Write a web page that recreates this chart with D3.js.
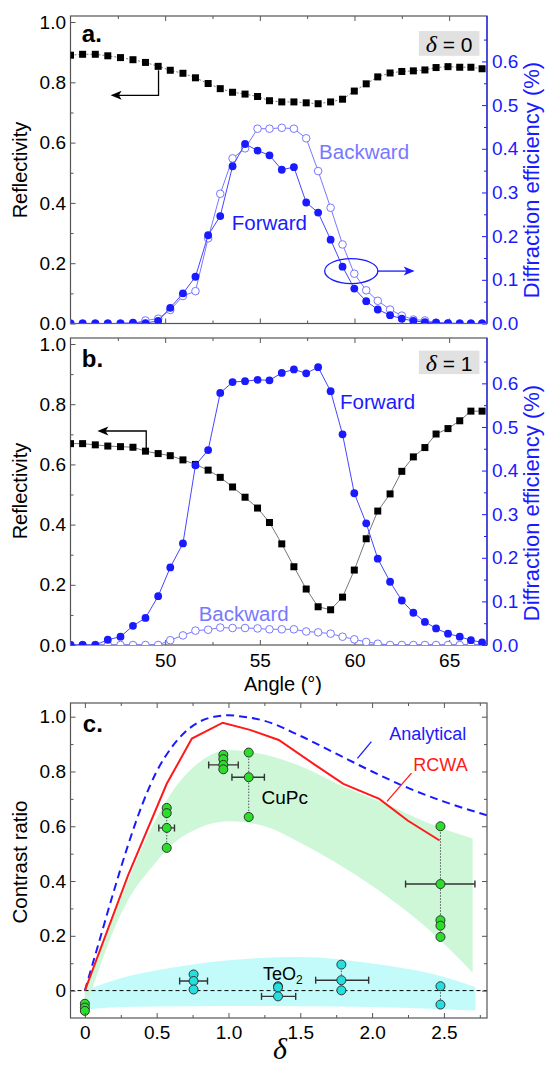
<!DOCTYPE html>
<html>
<head>
<meta charset="utf-8">
<script src="https://cdn.jsdelivr.net/npm/d3@7"></script>
<style>
  body { margin: 0; background: #fff; }
</style>
</head>
<body>
<script>
// ---- data: panels a and b (angle scans) ----
var angles = [45.00,45.64,46.31,46.97,47.64,48.30,48.96,49.63,50.27,50.94,51.60,52.27,52.91,53.56,54.22,54.88,55.51,56.16,56.80,57.45,58.08,58.74,59.37,59.99,60.62,61.23,61.88,62.50,63.11,63.72,64.31,64.94,65.56,66.15,66.74];

var reflA = [0.89,0.893,0.893,0.888,0.882,0.875,0.866,0.853,0.84,0.83,0.815,0.796,0.779,0.767,0.761,0.753,0.739,0.735,0.735,0.732,0.729,0.735,0.744,0.771,0.795,0.818,0.831,0.836,0.838,0.841,0.849,0.852,0.85,0.85,0.845];
var fwdA = [0,0,0,0,0,0.002,0.001,0.006,0.036,0.069,0.107,0.202,0.246,0.36,0.411,0.396,0.385,0.352,0.358,0.277,0.254,0.192,0.13,0.08,0.051,0.032,0.019,0.011,0.006,0.003,0.002,0.001,0,0,0];
var bwdA = [0,0,0,0,0,0,0.007,0.011,0.031,0.063,0.074,0.195,0.297,0.378,0.401,0.446,0.446,0.448,0.446,0.424,0.349,0.265,0.181,0.114,0.076,0.052,0.032,0.018,0.009,0.007,0.002,0,0,0,0];

var reflB = [0.669,0.669,0.665,0.661,0.659,0.657,0.644,0.636,0.629,0.615,0.6,0.581,0.557,0.525,0.491,0.455,0.407,0.336,0.26,0.186,0.127,0.117,0.159,0.249,0.353,0.445,0.502,0.577,0.625,0.656,0.701,0.719,0.745,0.777,0.777];
var fwdB = [0,0,0,0.012,0.019,0.044,0.062,0.112,0.178,0.233,0.412,0.447,0.578,0.603,0.605,0.608,0.607,0.624,0.632,0.623,0.637,0.582,0.483,0.348,0.279,0.198,0.145,0.102,0.074,0.053,0.038,0.026,0.019,0.011,0.006];
var bwdB = [0,0,0,0,0,0,0,0,0.011,0.022,0.033,0.035,0.04,0.039,0.039,0.038,0.036,0.036,0.036,0.031,0.029,0.026,0.019,0.013,0.007,0.003,0,0,0,0,0,0,0,0,0];

var angleTicks = [50, 55, 60, 65];
var angleMinor = [47.5, 52.5, 57.5, 62.5];
var reflTicks = [0, 0.2, 0.4, 0.6, 0.8, 1.0];
var reflMinor = [0.1, 0.3, 0.5, 0.7, 0.9];
var effTicks = [0, 0.1, 0.2, 0.3, 0.4, 0.5, 0.6];
var effMinor = [0.05, 0.15, 0.25, 0.35, 0.45, 0.55, 0.65];

// ---- data: panel c (contrast ratio vs delta) ----
var analytical = [[0,0],[0.1,0.18],[0.2,0.36],[0.3,0.53],[0.4,0.68],[0.5,0.8],[0.6,0.885],[0.7,0.945],[0.8,0.982],[0.9,1.0],[1.0,1.005],[1.1,1.0],[1.25,0.985],[1.5,0.93],[1.75,0.865],[2.0,0.8],[2.25,0.74],[2.5,0.69],[2.8,0.64]];
var rcwa = [[0,0],[0.3,0.42],[0.57,0.755],[0.745,0.92],[0.96,0.978],[1.15,0.952],[1.35,0.915],[1.6,0.825],[1.8,0.755],[2.05,0.7],[2.25,0.62],[2.47,0.548]];

var cupcBandX = [0, 0.1, 0.2, 0.3, 0.45, 0.6, 0.8, 1.0, 1.25, 1.5, 1.8, 2.1, 2.4, 2.7];
var cupcBandHi = [0.0, 0.13, 0.27, 0.4, 0.58, 0.72, 0.835, 0.878, 0.862, 0.82, 0.745, 0.68, 0.61, 0.555];
var cupcBandLo = [-0.07, 0.08, 0.22, 0.33, 0.44, 0.53, 0.595, 0.618, 0.6, 0.54, 0.45, 0.345, 0.22, 0.065];

var teoBandX = [0, 0.25, 0.5, 1.0, 1.5, 2.0, 2.5, 2.72];
var teoBandHi = [0.0, 0.045, 0.074, 0.111, 0.123, 0.099, 0.05, 0.013];
var teoBandLo = [-0.07, -0.06, -0.058, -0.056, -0.057, -0.06, -0.068, -0.073];

var cupcX = [0, 0.57, 0.964, 1.141, 2.476];
var cupcY = [[-0.048,-0.062,-0.074],[0.667,0.648,0.594,0.521],[0.861,0.845,0.824,0.808],[0.869,0.779,0.634],[0.6,0.389,0.257,0.237,0.196]];
var cupcErr = [null, [0.515,0.624,0.594], [0.862,1.068,0.824], [1.024,1.25,0.779], [2.233,2.716,0.389]];

var teoX = [0.757, 1.345, 1.786, 2.476];
var teoY = [[0.059,0.035,0.004],[0.016,0.012,-0.021],[0.095,0.038,0.001],[0.016,-0.051]];
var teoErr = [[0.66,0.854,0.035],[1.23,1.468,-0.021],[1.607,1.976,0.038], null];

var deltaTicks = [0, 0.5, 1.0, 1.5, 2.0, 2.5];
var deltaMinor = [0.25, 0.75, 1.25, 1.75, 2.25, 2.75];
var crTicks = [0, 0.2, 0.4, 0.6, 0.8, 1.0];
var crMinor = [0.1, 0.3, 0.5, 0.7, 0.9];

// ---- drawing ----
var FONT = '"Liberation Sans", Arial, sans-serif';
var SERIF = '"Liberation Serif", "Times New Roman", serif';
var BLUE = '#1a1aff', LIGHT = '#7878ff', FRAME = '#555';

var svg = d3.select('body').append('svg')
  .attr('width', 546)
  .attr('height', 1071);

var plotL = 70.5, plotR = 487;
var x = d3.scaleLinear().domain([45, 67]).range([plotL, plotR]);

function drawAxis(g, gen, tx, ty, stroke, fill) {
  var a = g.append('g').attr('transform', 'translate(' + tx + ',' + ty + ')').call(gen);
  a.select('.domain').remove();
  a.selectAll('.tick line').attr('stroke', stroke);
  a.selectAll('.tick text').attr('fill', fill)
    .style('font-size', '19px').style('font-family', FONT);
  return a;
}

function arrowHead(g, x1, y1, x2, y2, color) {
  var ang = Math.atan2(y2 - y1, x2 - x1), L = 11, w = 4.5;
  var c = Math.cos(ang), s = Math.sin(ang);
  var p = [[x2, y2],
           [x2 - L * c + w * s, y2 - L * s - w * c],
           [x2 - L * 0.75 * c, y2 - L * 0.75 * s],
           [x2 - L * c - w * s, y2 - L * s + w * c]];
  g.append('path').attr('d', 'M' + p.join('L') + 'Z').attr('fill', color);
}

function anglePanel(top, bottom, refl, fwd, bwd, dotted) {
  var g = svg.append('g');
  var yL = d3.scaleLinear().domain([0, 1.02]).range([bottom, top]);
  var yR = d3.scaleLinear().domain([0, 0.704]).range([bottom, top]);
  var id = 'clip' + Math.round(top);
  svg.append('clipPath').attr('id', id).append('rect')
    .attr('x', plotL).attr('y', top).attr('width', plotR - plotL).attr('height', bottom - top);

  // axes
  drawAxis(g, d3.axisBottom(x).tickValues(angleTicks).tickSize(-5).tickFormat(''), 0, bottom, FRAME, '#000');
  drawAxis(g, d3.axisBottom(x).tickValues(angleMinor).tickSize(-3).tickFormat(''), 0, bottom, FRAME, '#000');
  drawAxis(g, d3.axisTop(x).tickValues(angleTicks).tickSize(-5).tickFormat(''), 0, top, FRAME, '#000');
  drawAxis(g, d3.axisTop(x).tickValues(angleMinor).tickSize(-3).tickFormat(''), 0, top, FRAME, '#000');
  drawAxis(g, d3.axisLeft(yL).tickValues(reflTicks).tickSize(-5).tickPadding(4.5).tickFormat(d3.format('.1f')), plotL, 0, FRAME, '#000');
  drawAxis(g, d3.axisLeft(yL).tickValues(reflMinor).tickSize(-3).tickFormat(''), plotL, 0, FRAME, '#000');
  drawAxis(g, d3.axisRight(yR).tickValues(effTicks).tickSize(-5).tickPadding(5).tickFormat(d3.format('.1f')), plotR, 0, BLUE, BLUE);
  drawAxis(g, d3.axisRight(yR).tickValues(effMinor).tickSize(-3).tickFormat(''), plotR, 0, BLUE, BLUE);

  g.append('rect').attr('x', plotL).attr('y', top).attr('width', plotR - plotL).attr('height', bottom - top)
    .attr('fill', 'none').attr('stroke', FRAME).attr('stroke-width', 1.2);
  g.append('line').attr('x1', plotR).attr('x2', plotR).attr('y1', top).attr('y2', bottom)
    .attr('stroke', BLUE).attr('stroke-width', 1.2);

  var plot = g.append('g').attr('clip-path', 'url(#' + id + ')');

  var lineL = d3.line().x(function(d, i) { return x(angles[i]); }).y(function(d) { return yL(d); });
  var lineR = d3.line().x(function(d, i) { return x(angles[i]); }).y(function(d) { return yR(d); });

  plot.append('path').attr('d', lineL(refl)).attr('fill', 'none')
    .attr('stroke', '#777').attr('stroke-width', 1)
    .attr('stroke-dasharray', dotted ? '2,2' : null);
  plot.selectAll('rect.sq').data(refl).enter().append('rect').attr('class', 'sq')
    .attr('x', function(d, i) { return x(angles[i]) - 3.5; })
    .attr('y', function(d) { return yL(d) - 3.5; })
    .attr('width', 7).attr('height', 7).attr('fill', '#000');

  plot.append('path').attr('d', lineR(bwd)).attr('fill', 'none').attr('stroke', LIGHT).attr('stroke-width', 1);
  plot.selectAll('circle.bw').data(bwd).enter().append('circle').attr('class', 'bw')
    .attr('cx', function(d, i) { return x(angles[i]); })
    .attr('cy', function(d) { return yR(d); })
    .attr('r', 3.8).attr('fill', '#fff').attr('stroke', LIGHT).attr('stroke-width', 1);

  plot.append('path').attr('d', lineR(fwd)).attr('fill', 'none').attr('stroke', '#4646ff').attr('stroke-width', 1);
  plot.selectAll('circle.fw').data(fwd).enter().append('circle').attr('class', 'fw')
    .attr('cx', function(d, i) { return x(angles[i]); })
    .attr('cy', function(d) { return yR(d); })
    .attr('r', 3.9).attr('fill', BLUE);

  return { g: g, yL: yL, yR: yR, top: top, bottom: bottom };
}

function label(g, txt, px, py, opts) {
  var t = g.append('text').attr('x', px).attr('y', py).text(txt)
    .style('font-family', opts.family || FONT).style('font-size', (opts.size || 20) + 'px')
    .attr('fill', opts.color || '#000').attr('text-anchor', opts.anchor || 'start');
  if (opts.weight) t.style('font-weight', opts.weight);
  if (opts.italic) t.style('font-style', 'italic');
  if (opts.rotate) t.attr('transform', 'rotate(-90,' + px + ',' + py + ')');
  if (opts.dy) t.attr('dy', opts.dy);
  return t;
}

function deltaBox(p, val, v0, v1, vb) {
  p.g.append('rect').attr('x', x(63.4)).attr('y', p.yL(v0))
    .attr('width', x(66.6) - x(63.4)).attr('height', p.yL(v1) - p.yL(v0)).attr('fill', '#e1e1e1');
  var t = p.g.append('text').attr('x', x(65.0)).attr('y', p.yL(vb)).attr('text-anchor', 'middle')
    .style('font-family', FONT).style('font-size', '21px');
  t.append('tspan').text('\u03B4').style('font-family', SERIF).style('font-style', 'italic').style('font-size', '24px');
  t.append('tspan').text(' = ' + val);
}

// panel a
var pa = anglePanel(16, 323.5, reflA, fwdA, bwdA, true);
label(pa.g, 'a.', x(45.6), pa.yL(0.935), { size: 24, weight: 'bold' });
deltaBox(pa, '0', 0.97, 0.888, 0.9);
label(pa.g, 'Forward', x(53.52), pa.yR(0.232), { color: BLUE, size: 20.5, dy: '0.36em' });
label(pa.g, 'Backward', x(58.13), pa.yR(0.393), { color: LIGHT, size: 20.5, dy: '0.36em' });
pa.g.append('path')
  .attr('d', 'M' + x(49.65) + ',' + pa.yL(0.84) + 'V' + pa.yL(0.757) + 'H' + (x(47.12) + 6))
  .attr('fill', 'none').attr('stroke', '#000').attr('stroke-width', 1.3);
arrowHead(pa.g, x(49.65), pa.yL(0.757), x(47.12), pa.yL(0.757), '#000');
pa.g.append('ellipse').attr('cx', x(59.83)).attr('cy', pa.yR(0.12)).attr('rx', 26.6).attr('ry', 12.5)
  .attr('fill', 'none').attr('stroke', BLUE).attr('stroke-width', 1.3);
pa.g.append('line').attr('x1', x(61.22)).attr('x2', x(63.18) - 6)
  .attr('y1', pa.yR(0.12)).attr('y2', pa.yR(0.12)).attr('stroke', BLUE).attr('stroke-width', 1.3);
arrowHead(pa.g, x(61.22), pa.yR(0.12), x(63.18), pa.yR(0.12), BLUE);
label(svg, 'Reflectivity', 27, 170, { rotate: true, anchor: 'middle' });
label(svg, 'Diffraction efficiency (%)', 539, 180, { rotate: true, anchor: 'middle', color: BLUE, size: 22 });

// panel b
var pb = anglePanel(338, 645, reflB, fwdB, bwdB, false);
drawAxis(pb.g, d3.axisBottom(x).tickValues(angleTicks).tickSize(0).tickPadding(9).tickFormat(d3.format('d')), 0, 645, 'none', '#000');
label(pb.g, 'b.', x(45.6), pb.yL(0.925), { size: 24, weight: 'bold' });
deltaBox(pb, '1', 0.978, 0.9, 0.91);
label(pb.g, 'Forward', x(59.24), pb.yR(0.557), { color: BLUE, size: 20.5, dy: '0.36em' });
label(pb.g, 'Backward', x(51.77), pb.yR(0.071), { color: LIGHT, size: 20.5, dy: '0.36em' });
pb.g.append('path')
  .attr('d', 'M' + x(49.0) + ',' + pb.yL(0.654) + 'V' + pb.yL(0.711) + 'H' + (x(46.42) + 6))
  .attr('fill', 'none').attr('stroke', '#000').attr('stroke-width', 1.3);
arrowHead(pb.g, x(49.0), pb.yL(0.711), x(46.42), pb.yL(0.711), '#000');
label(svg, 'Reflectivity', 27, 491, { rotate: true, anchor: 'middle' });
label(svg, 'Diffraction efficiency (%)', 539, 503, { rotate: true, anchor: 'middle', color: BLUE, size: 22 });
label(svg, 'Angle (\u00B0)', 283, 691, { anchor: 'middle' });

// panel c
var cTop = 703, cBot = 1018;
var xc = d3.scaleLinear().domain([-0.1, 2.8]).range([plotL, plotR]);
var yc = d3.scaleLinear().domain([-0.1, 1.05]).range([cBot, cTop]);
var gc = svg.append('g');
svg.append('clipPath').attr('id', 'clipc').append('rect')
  .attr('x', plotL).attr('y', cTop).attr('width', plotR - plotL).attr('height', cBot - cTop);
var pc = gc.append('g').attr('clip-path', 'url(#clipc)');

var bandArea = d3.area().curve(d3.curveMonotoneX)
  .x(function(d) { return xc(d[0]); }).y0(function(d) { return yc(d[1]); }).y1(function(d) { return yc(d[2]); });
pc.append('path').attr('d', bandArea(teoBandX.map(function(v, i) { return [v, teoBandLo[i], teoBandHi[i]]; })))
  .attr('fill', '#c3fbfb');
pc.append('path').attr('d', bandArea(cupcBandX.map(function(v, i) { return [v, cupcBandLo[i], cupcBandHi[i]]; })))
  .attr('fill', '#c9f6d4').attr('fill-opacity', 0.9);

pc.append('line').attr('x1', plotL).attr('x2', plotR).attr('y1', yc(0)).attr('y2', yc(0))
  .attr('stroke', '#000').attr('stroke-width', 1).attr('stroke-dasharray', '4,3');

var lineC = d3.line().x(function(d) { return xc(d[0]); }).y(function(d) { return yc(d[1]); });
pc.append('path').attr('d', lineC.curve(d3.curveMonotoneX)(analytical)).attr('fill', 'none')
  .attr('stroke', '#1a1aff').attr('stroke-width', 2).attr('stroke-dasharray', '8,5');
pc.append('path').attr('d', d3.line().x(function(d) { return xc(d[0]); }).y(function(d) { return yc(d[1]); })(rcwa))
  .attr('fill', 'none').attr('stroke', '#ff1a1a').attr('stroke-width', 2);

function group(xs, ys, errs, fill) {
  xs.forEach(function(dx, i) {
    var vals = ys[i];
    if (vals.length > 1) {
      pc.append('line').attr('x1', xc(dx)).attr('x2', xc(dx))
        .attr('y1', yc(d3.max(vals))).attr('y2', yc(d3.min(vals)))
        .attr('stroke', '#555').attr('stroke-width', 1).attr('stroke-dasharray', '1.5,1.5');
    }
    var e = errs[i];
    if (e) {
      pc.append('line').attr('x1', xc(e[0])).attr('x2', xc(e[1])).attr('y1', yc(e[2])).attr('y2', yc(e[2]))
        .attr('stroke', '#333').attr('stroke-width', 1.4);
      [e[0], e[1]].forEach(function(ex) {
        pc.append('line').attr('x1', xc(ex)).attr('x2', xc(ex)).attr('y1', yc(e[2]) - 3.5).attr('y2', yc(e[2]) + 3.5)
          .attr('stroke', '#333').attr('stroke-width', 1.4);
      });
    }
    pc.selectAll(null).data(vals).enter().append('circle')
      .attr('cx', xc(dx)).attr('cy', function(d) { return yc(d); })
      .attr('r', 4.5).attr('fill', fill).attr('stroke', '#333').attr('stroke-width', 1);
  });
}
group(teoX, teoY, teoErr, '#26dede');
group(cupcX, cupcY, cupcErr, '#2ade2a');

drawAxis(gc, d3.axisBottom(xc).tickValues(deltaTicks).tickSize(-5).tickPadding(7.5).tickFormat(function(d) { return d === 0 ? '0' : d3.format('.1f')(d); }), 0, cBot, FRAME, '#000');
drawAxis(gc, d3.axisBottom(xc).tickValues(deltaMinor).tickSize(-3).tickFormat(''), 0, cBot, FRAME, '#000');
drawAxis(gc, d3.axisTop(xc).tickValues(deltaTicks).tickSize(-5).tickFormat(''), 0, cTop, FRAME, '#000');
drawAxis(gc, d3.axisTop(xc).tickValues(deltaMinor).tickSize(-3).tickFormat(''), 0, cTop, FRAME, '#000');
drawAxis(gc, d3.axisLeft(yc).tickValues(crTicks).tickSize(-5).tickPadding(4.5).tickFormat(function(d) { return d === 0 ? '0' : d3.format('.1f')(d); }), plotL, 0, FRAME, '#000');
drawAxis(gc, d3.axisLeft(yc).tickValues(crMinor).tickSize(-3).tickFormat(''), plotL, 0, FRAME, '#000');
drawAxis(gc, d3.axisRight(yc).tickValues(crTicks).tickSize(-5).tickFormat(''), plotR, 0, FRAME, '#000');
drawAxis(gc, d3.axisRight(yc).tickValues(crMinor).tickSize(-3).tickFormat(''), plotR, 0, FRAME, '#000');
gc.append('rect').attr('x', plotL).attr('y', cTop).attr('width', plotR - plotL).attr('height', cBot - cTop)
  .attr('fill', 'none').attr('stroke', FRAME).attr('stroke-width', 1.2);

label(gc, 'c.', xc(0.0) - 2, yc(0.945), { size: 24, weight: 'bold' });
label(gc, 'Analytical', xc(2.12), yc(0.94), { color: '#1a1aff', size: 18, dy: '0.36em' });
gc.append('line').attr('x1', xc(1.898)).attr('y1', yc(0.848)).attr('x2', xc(1.995)).attr('y2', yc(0.909))
  .attr('stroke', '#1a1aff').attr('stroke-width', 1.3);
label(gc, 'RCWA', xc(2.287), yc(0.824), { color: '#ff1a1a', size: 18, dy: '0.36em' });
gc.append('line').attr('x1', xc(2.274)).attr('y1', yc(0.794)).attr('x2', xc(2.104)).attr('y2', yc(0.691))
  .attr('stroke', '#ff1a1a').attr('stroke-width', 1.3);
label(gc, 'CuPc', xc(1.23), yc(0.707), { size: 19, dy: '0.36em' });
var teoLabel = label(gc, 'TeO', xc(1.24), yc(0.062), { size: 18, dy: '0.36em' });
teoLabel.append('tspan').text('2').attr('dy', '0.3em').style('font-size', '12px');

label(svg, 'Contrast ratio', 27, 862, { rotate: true, anchor: 'middle', size: 20.5 });
label(svg, '\u03B4', 280, 1059, { anchor: 'middle', family: SERIF, italic: true, size: 30 });
</script>
</body>
</html>
